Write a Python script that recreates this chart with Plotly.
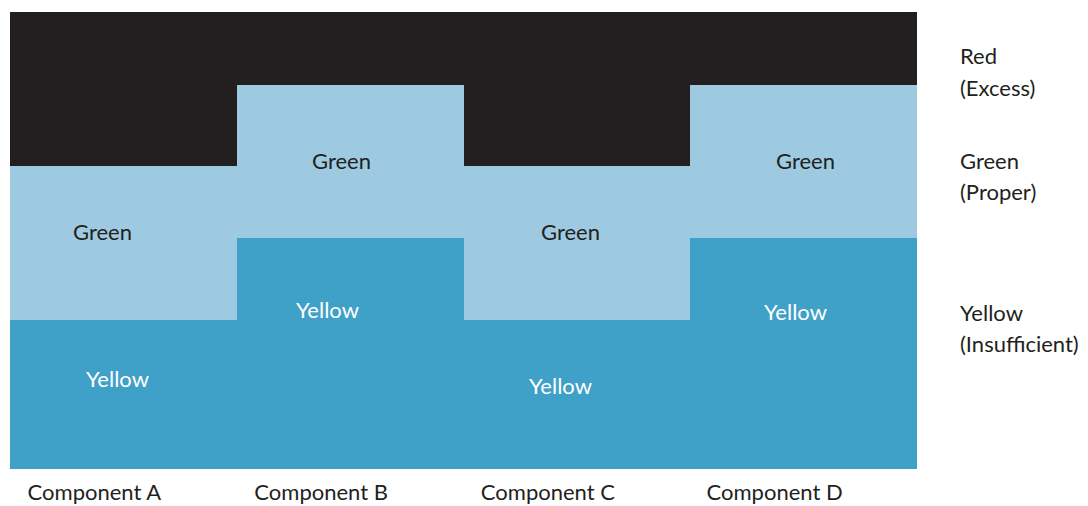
import plotly.graph_objects as go

categories = ["Component A", "Component B", "Component C", "Component D"]
yellow = [32.6, 50.5, 32.6, 50.5]   # Insufficient
green = [33.7, 33.5, 33.7, 33.5]    # Proper
red = [33.7, 16.0, 33.7, 16.0]      # Excess

green_labels = ["Green", "Green", "Green", "Green"]
yellow_labels = ["Yellow", "Yellow", "Yellow", "Yellow"]
legend_lines = [["Red", "(Excess)"], ["Green", "(Proper)"], ["Yellow", "(Insufficient)"]]

C_YEL = "#3fa0c8"
C_GRN = "#9ecae1"
C_RED = "#231f20"
FONT = "Lato"
FS = 22
FW = 400

fig = go.Figure()
for vals, col, name in [(yellow, C_YEL, "Yellow"), (green, C_GRN, "Green"), (red, C_RED, "Red")]:
    fig.add_trace(go.Bar(x=categories, y=vals, marker=dict(color=col, line=dict(width=0)),
                         name=name, showlegend=False, hoverinfo="skip"))

# label positions (offsets in category units, heights in data units)
green_pos = [(-0.09, 51.9), (0.964, 67.6), (1.97, 51.9), (3.01, 67.6)]
yellow_pos = [(-0.024, 19.9), (0.902, 34.8), (1.926, 18.2), (2.966, 34.4)]

ann = []
for t, (x, y) in zip(green_labels, green_pos):
    ann.append(dict(x=x, y=y, xref="x", yref="y", text=t, showarrow=False,
                    font=dict(family=FONT, size=FS, weight=FW, color=C_RED)))
for t, (x, y) in zip(yellow_labels, yellow_pos):
    ann.append(dict(x=x, y=y, xref="x", yref="y", text=t, showarrow=False,
                    font=dict(family=FONT, size=FS, weight=FW, color="white")))

leg_y = [(0.9059, 0.8337), (0.6761, 0.6083), (0.3435, 0.2757)]
for lines, ys in zip(legend_lines, leg_y):
    for t, y in zip(lines, ys):
        ann.append(dict(x=1.0452, y=y, xref="paper", yref="paper", text=t, showarrow=False,
                        xanchor="left", yanchor="middle",
                        font=dict(family=FONT, size=FS, weight=FW, color=C_RED)))

fig.update_layout(
    barmode="stack", bargap=0,
    width=1080, height=498,
    margin=dict(l=2, r=171, t=4, b=37, autoexpand=False),
    plot_bgcolor="white", paper_bgcolor="white",
    annotations=ann,
    font=dict(family=FONT, size=FS, color=C_RED),
)
fig.update_xaxes(showgrid=False, zeroline=False, showline=False, ticks="",
                 automargin=False,
                 ticklabelshift=-29, ticklabelstandoff=8,
                 tickfont=dict(family=FONT, size=FS, weight=FW, color=C_RED))
fig.update_yaxes(range=[0, 100], showgrid=False, zeroline=False, showticklabels=False,
                 automargin=False)

fig.write_html("out.html")
